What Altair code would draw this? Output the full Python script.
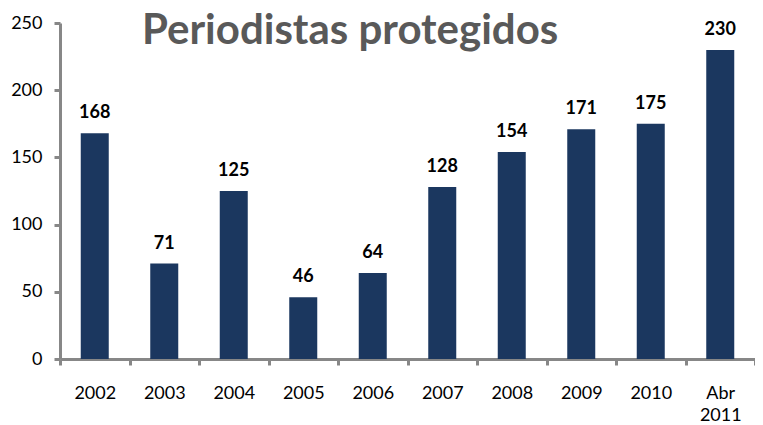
import altair as alt
import pandas as pd

years = ["2002", "2003", "2004", "2005", "2006", "2007", "2008", "2009", "2010", "Abr 2011"]
values = [168, 71, 125, 46, 64, 128, 154, 171, 175, 230]
y_ticks = [0, 50, 100, 150, 200, 250]
title_text = ["Periodistas protegidos"]

df = pd.DataFrame({"year": years, "value": values})
title_df = pd.DataFrame({"t": title_text})

FONT = "Lato"
AXIS_GRAY = "#878787"

x_enc = alt.X(
    "year:N",
    sort=years,
    title=None,
    scale=alt.Scale(paddingInner=0, paddingOuter=0),
    axis=alt.Axis(
        tickBand="extent",
        labelAngle=0,
        labelFont=FONT,
        labelFontSize=18,
        labelColor="#000000",
        labelPadding=19,
        labelBaseline="top",
        labelLineHeight=22,
        labelExpr="datum.value == 'Abr 2011' ? ['Abr', '2011'] : datum.value",
        domainColor=AXIS_GRAY,
        domainWidth=3,
        tickColor=AXIS_GRAY,
        tickWidth=3,
        tickSize=6,
        grid=False,
    ),
)

y_enc = alt.Y(
    "value:Q",
    title=None,
    scale=alt.Scale(domain=[0, 250], nice=False, zero=True),
    axis=alt.Axis(
        values=y_ticks,
        labelFont=FONT,
        labelFontSize=18,
        labelColor="#000000",
        labelPadding=12,
        domainColor=AXIS_GRAY,
        domainWidth=3,
        tickColor=AXIS_GRAY,
        tickWidth=3,
        tickSize=6,
        grid=False,
    ),
)

base = alt.Chart(df)

bars = base.mark_bar(color="#1b375f", size=28).encode(x=x_enc, y=y_enc)

labels = base.mark_text(
    font=FONT, fontSize=18, fontWeight="bold", color="#000000",
    baseline="alphabetic", dy=-15,
).encode(x=alt.X("year:N", sort=years), y=alt.Y("value:Q"), text="value:Q")

title = alt.Chart(title_df).mark_text(
    font=FONT, fontSize=42, fontWeight="bold", color="#595959",
    align="left", baseline="alphabetic",
).encode(x=alt.value(82), y=alt.value(21), text="t:N")

chart = (
    alt.layer(bars, labels, title)
    .properties(
        width=695,
        height=336,
        autosize=alt.AutoSizeParams(type="none"),
        padding={"left": 52, "top": 15, "right": 0, "bottom": 70},
    )
    .configure_view(stroke=None)
)

chart.save("out.html", embed_options={"renderer": "svg", "actions": False})
